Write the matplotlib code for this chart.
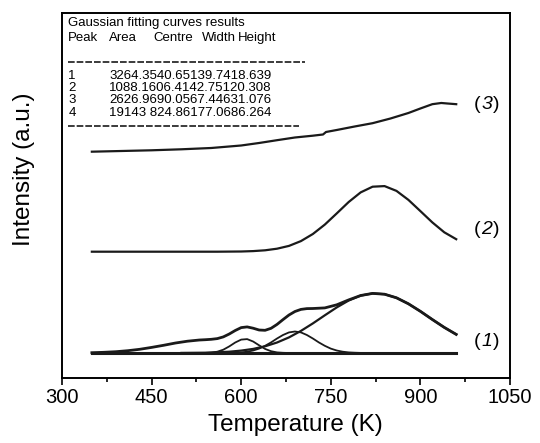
import numpy as np
import matplotlib
matplotlib.use("Agg")
import matplotlib.pyplot as plt

plt.rcParams['font.family'] = ['Liberation Sans', 'DejaVu Sans']

# curve (1): fitted sum and gaussian components (a.u., above baseline)
t_sum = [350, 370, 390, 410, 430, 450, 470, 490, 510, 530,
         540, 550, 560, 570, 580, 590, 600, 610, 620, 630, 640, 650, 660, 670, 680, 690, 700, 710, 720,
         740, 760, 780, 800, 820, 840, 860, 880, 900, 920, 940, 960]
i_sum = [0.3, 0.7, 1.3, 2.3, 3.7, 5.6, 7.7, 10.0, 11.8, 13.0,
         13.3, 13.7, 14.4, 16.1, 19.0, 22.5, 25.4, 26.1, 24.8, 23.0, 22.7, 24.7, 28.6, 33.4, 38.0, 41.5, 43.6, 44.4, 44.5,
         45.1, 48.2, 53.1, 57.5, 59.6, 58.8, 55.2, 49.2, 41.7, 33.5, 25.6, 18.6]

t_pk2 = [530, 540, 550, 560, 570, 580, 590, 600, 610, 620, 630, 640, 650, 660, 670, 680, 690]
i_pk2 = [0.0, 0.1, 0.4, 1.3, 3.3, 6.6, 10.5, 13.4, 13.9, 11.5, 7.7, 4.1, 1.8, 0.6, 0.2, 0.0, 0.0]

t_pk3 = [560, 570, 580, 590, 600, 610, 620, 630, 640, 650, 660, 670, 680, 690,
         700, 710, 720, 730, 740, 750, 760, 770, 780, 790, 800, 810, 820]
i_pk3 = [0.0, 0.0, 0.1, 0.3, 0.6, 1.3, 2.5, 4.4, 7.2, 10.6, 14.5, 18.0, 20.6, 21.5,
         20.6, 18.0, 14.5, 10.6, 7.2, 4.4, 2.5, 1.3, 0.6, 0.3, 0.1, 0.0, 0.0]

t_pk4 = [500, 520, 540, 560, 580, 600, 620, 640, 660, 680, 700, 720, 740, 760,
         780, 800, 820, 840, 860, 880, 900, 920, 940, 960]
i_pk4 = [0.1, 0.2, 0.3, 0.7, 1.3, 2.4, 4.1, 6.7, 10.5, 15.6, 22.1, 29.6, 37.7, 45.6,
         52.5, 57.4, 59.6, 58.8, 55.2, 49.2, 41.7, 33.5, 25.6, 18.6]

t_base = [350, 960]
i_base = [0.0, 0.0]

# curve (2)
t_c2 = [350, 560, 580, 600, 620, 640, 660, 680, 700, 720, 740, 760,
        780, 800, 820, 840, 860, 880, 900, 920, 940, 960]
i_c2 = [0.0, 0.0, 0.1, 0.2, 0.6, 1.4, 3.0, 5.8, 10.6, 17.7, 27.1, 38.3,
        49.7, 59.3, 65.0, 65.6, 60.8, 51.8, 40.6, 29.3, 19.4, 12.5]

# curve (3)
t_c3 = [350, 400, 450, 500, 550, 600, 630, 660, 690, 720, 737, 742, 760,
        790, 820, 850, 880, 900, 920, 935, 945, 960]
i_c3 = [0.0, 0.7, 1.4, 2.4, 3.7, 6.2, 8.7, 11.5, 14.2, 16.0, 17.2, 19.7, 21.7,
        25.2, 28.5, 33.2, 38.7, 43.2, 47.5, 48.7, 48.2, 47.5]

# table in the corner
table_title = "Gaussian fitting curves results"
table_head = ["Peak", "Area", "Centre", "Width", "Height"]
peak_no = ["1", "2", "3", "4"]
area = ["3264.3", "1088.1", "2626.9", "19143 "]
centre = ["540.65", "606.41", "690.05", "824.86"]
width = ["139.74", "42.751", "67.446", "177.06"]
height = ["18.639", "20.308", "31.076", "86.264"]

curve_labels = ["1", "2", "3"]

off1, off2, off3 = 25.0, 126.3, 226.3

fig = plt.figure(figsize=(5.4, 4.43), dpi=100)
ax = fig.add_axes([0.1148, 0.1467, 0.8296, 0.824])

lw = 1.6
ax.plot(t_base, np.array(i_base) + off1, color='#1a1a1a', lw=2.2)
ax.plot(t_pk2, np.array(i_pk2) + off1, color='#1a1a1a', lw=1.3)
ax.plot(t_pk3, np.array(i_pk3) + off1, color='#1a1a1a', lw=1.3)
ax.plot(t_pk4, np.array(i_pk4) + off1, color='#1a1a1a', lw=1.6)
ax.plot(t_sum, np.array(i_sum) + off1, color='#1a1a1a', lw=2.0)
ax.plot(t_c2, np.array(i_c2) + off2, color='#1a1a1a', lw=lw)
ax.plot(t_c3, np.array(i_c3) + off3, color='#1a1a1a', lw=lw)

# "(n)" labels with italic number
lfs = 14
for lab, yy in zip(curve_labels, [37, 148, 273]):
    ax.annotate('(', (990, yy), xytext=(0, 0), textcoords='offset points',
                fontsize=lfs, va='center', ha='left')
    ax.annotate(lab, (990, yy), xytext=(lfs * 0.38, 0), textcoords='offset points',
                fontsize=lfs, va='center', ha='left', style='italic')
    ax.annotate(')', (990, yy), xytext=(lfs * 0.96, 0), textcoords='offset points',
                fontsize=lfs, va='center', ha='left')

ax.set_xlim(300, 1050)
ax.set_ylim(0, 365)
ax.set_xticks([300, 450, 600, 750, 900, 1050])
ax.set_xticks([375, 525, 675, 825, 975], minor=True)
ax.set_yticks([])
ax.tick_params(axis='x', which='major', direction='out', length=5, width=1.2, labelsize=14.5, pad=2)
ax.tick_params(axis='x', which='minor', direction='out', length=3, width=1.2)
for sp in ax.spines.values():
    sp.set_linewidth(1.4)

ax.set_xlabel('Temperature (K)', fontsize=17.5, va='top')
ax.xaxis.set_label_coords(0.52, -0.098)
ax.set_ylabel('Intensity (a.u.)', fontsize=17.5)
ax.yaxis.set_label_coords(-0.06, 0.573)

# table text
fs = 9.5
cols = [0.014, 0.1056, 0.2038, 0.312, 0.3935]
ax.text(cols[0], 0.972, table_title, transform=ax.transAxes, fontsize=fs, va='center')
for c, h in zip(cols, table_head):
    ax.text(c, 0.932, h, transform=ax.transAxes, fontsize=fs, va='center')
row_txt = [area[k] + centre[k] + width[k] + height[k] for k in range(4)]
ax.text(cols[0], 0.845, "\n".join(peak_no), transform=ax.transAxes, fontsize=fs,
        va='top', linespacing=1.04)
ax.text(cols[1], 0.845, "\n".join(row_txt), transform=ax.transAxes, fontsize=fs,
        va='top', linespacing=1.04)
ax.plot([0.014, 0.543], [0.867, 0.867], transform=ax.transAxes, color='#1a1a1a',
        lw=1.2, dashes=(4, 1.2))
ax.plot([0.014, 0.530], [0.690, 0.690], transform=ax.transAxes, color='#1a1a1a',
        lw=1.2, dashes=(4, 1.2))

fig.savefig('out.png', dpi=100)
